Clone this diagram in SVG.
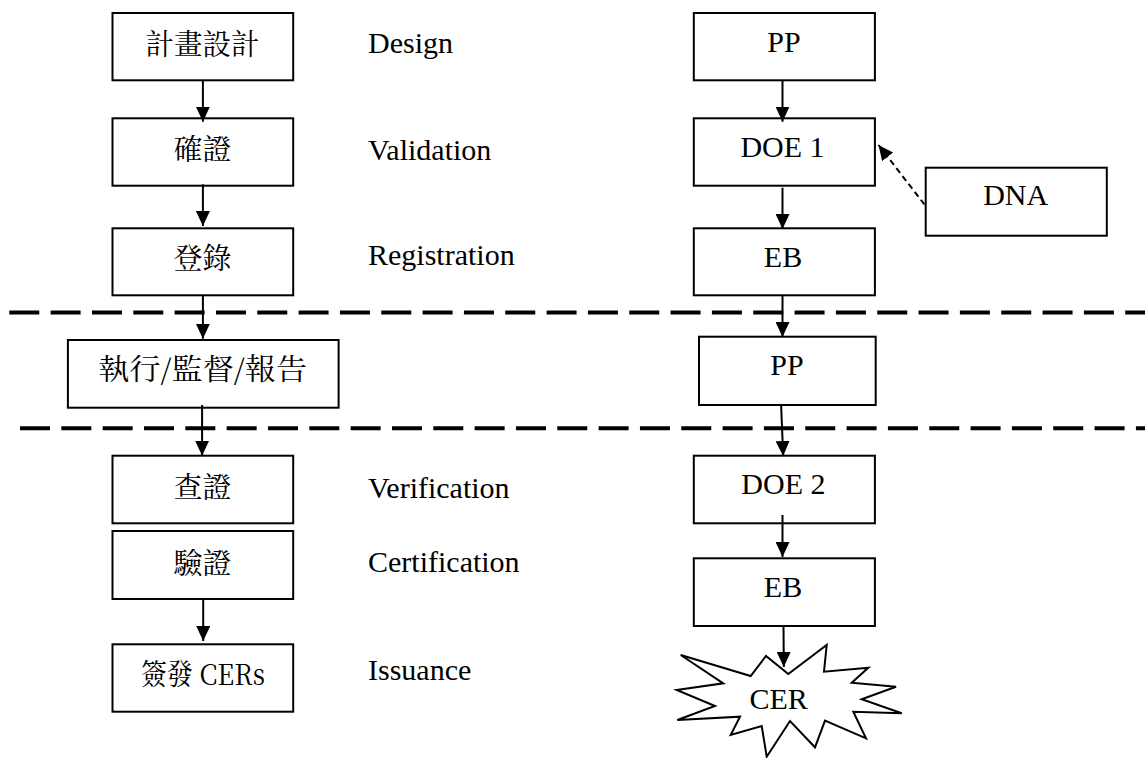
<svg xmlns="http://www.w3.org/2000/svg" width="1145" height="758" viewBox="0 0 1145 758">
<style>
.box{fill:#fff;stroke:#000;stroke-width:2}
.lbl{font-family:"Liberation Serif","Times New Roman",serif;font-size:30px;fill:#000}
.mid{text-anchor:middle}
.cjk{font-family:"Noto Serif CJK TC","Noto Sans CJK TC",serif;font-size:29px;fill:#000;text-anchor:middle}
.conn{stroke:#000;stroke-width:2;fill:none;marker-end:url(#ah)}
.dconn{stroke:#000;stroke-width:2;fill:none;stroke-dasharray:6 4;marker-end:url(#ah)}
.sep{stroke:#000;stroke-width:4;stroke-dasharray:30 11.33;fill:none}
</style>
<defs>
<marker id="ah" markerUnits="userSpaceOnUse" markerWidth="15" markerHeight="14" refX="15" refY="7" orient="auto">
<path d="M0,0 L15,7 L0,14 z" fill="#000"/>
</marker>
</defs>
<rect width="1145" height="758" fill="#fff"/>

<g id="separators">
<line class="sep" x1="9.3" y1="312.5" x2="1145" y2="312.5"/>
<line class="sep" x1="20" y1="428.3" x2="1145" y2="428.3"/>
</g>

<g id="n-design">
<rect class="box" x="112.5" y="13" width="180.7" height="67.3"/>
<text class="cjk" x="202.5" y="55" textLength="114" lengthAdjust="spacingAndGlyphs">計畫設計</text>
</g>
<g id="n-validation">
<rect class="box" x="112.5" y="118.3" width="180.7" height="67.4"/>
<text class="cjk" x="202.5" y="160">確證</text>
</g>
<g id="n-registration">
<rect class="box" x="112.5" y="228.3" width="180.7" height="67"/>
<text class="cjk" x="202.5" y="269">登錄</text>
</g>
<g id="n-implement">
<rect class="box" x="67.9" y="340" width="270.7" height="67.7"/>
<text class="cjk" x="202.7" y="380" textLength="209" lengthAdjust="spacingAndGlyphs">執行/監督/報告</text>
</g>
<g id="n-verification">
<rect class="box" x="112.5" y="455.7" width="180.7" height="67.6"/>
<text class="cjk" x="202.5" y="497.5">查證</text>
</g>
<g id="n-certification">
<rect class="box" x="112.5" y="531" width="180.7" height="68"/>
<text class="cjk" x="202.5" y="573.5">驗證</text>
</g>
<g id="n-issuance">
<rect class="box" x="112.5" y="644.3" width="180.7" height="67.4"/>
<text class="cjk" x="203" y="685" textLength="124" lengthAdjust="spacingAndGlyphs">簽發 CERs</text>
</g>

<g id="labels">
<text class="lbl" x="368" y="53">Design</text>
<text class="lbl" x="368" y="160">Validation</text>
<text class="lbl" x="368" y="265">Registration</text>
<text class="lbl" x="368" y="498.3">Verification</text>
<text class="lbl" x="368" y="571.7">Certification</text>
<text class="lbl" x="368" y="680">Issuance</text>
</g>

<g id="n-pp1">
<rect class="box" x="693.8" y="13" width="181.1" height="67.3"/>
<text class="lbl mid" x="783.9" y="51.7">PP</text>
</g>
<g id="n-doe1">
<rect class="box" x="693.8" y="118.3" width="181.1" height="67.4"/>
<text class="lbl mid" x="782.5" y="156.7">DOE 1</text>
</g>
<g id="n-dna">
<rect class="box" x="925.7" y="167.7" width="181.1" height="68"/>
<text class="lbl mid" x="1015.7" y="205">DNA</text>
</g>
<g id="n-eb1">
<rect class="box" x="693.8" y="228.3" width="181.1" height="67"/>
<text class="lbl mid" x="783" y="266.7">EB</text>
</g>
<g id="n-pp2">
<rect class="box" x="699" y="336.7" width="176.7" height="68.3"/>
<text class="lbl mid" x="787" y="375">PP</text>
</g>
<g id="n-doe2">
<rect class="box" x="693.8" y="455.7" width="181.1" height="67.6"/>
<text class="lbl mid" x="783.4" y="494">DOE 2</text>
</g>
<g id="n-eb2">
<rect class="box" x="693.8" y="558.3" width="181.1" height="67.7"/>
<text class="lbl mid" x="783" y="596.7">EB</text>
</g>
<g id="n-cer">
<polygon class="box" points="680.7,655 750.7,676 766,656 788.3,674 826.7,645 824,671.7 868.3,667.7 851.7,682.7 896,686.7 861.7,699.3 901.7,713.3 853.3,711.7 866,738.3 825,720.7 815,747.3 790,721 766.7,756.7 761.7,726 730.7,735 740,716.7 677.3,720 715,706 676.7,690 723.3,683.3"/>
<text class="lbl mid" x="778.7" y="709">CER</text>
</g>

<g id="connectors">
<line class="conn" x1="202.9" y1="80.3" x2="202.9" y2="121.7"/>
<line class="conn" x1="202.9" y1="184.3" x2="202.9" y2="226"/>
<line class="conn" x1="202.9" y1="295.3" x2="202.9" y2="338.8"/>
<line class="conn" x1="202.1" y1="405" x2="202.1" y2="455.7"/>
<line class="conn" x1="203.2" y1="599" x2="203.2" y2="641"/>
<line class="conn" x1="782.5" y1="80.3" x2="782.5" y2="121.7"/>
<line class="conn" x1="782.5" y1="187.7" x2="782.5" y2="229"/>
<line class="conn" x1="782.5" y1="295.3" x2="782.5" y2="337"/>
<line class="conn" x1="781.1" y1="405" x2="783.2" y2="456"/>
<line class="conn" x1="782.5" y1="515" x2="782.5" y2="557"/>
<line class="conn" x1="783.5" y1="626" x2="783.8" y2="667"/>
<line class="dconn" x1="924.5" y1="204.5" x2="878.5" y2="145"/>
</g>
</svg>
